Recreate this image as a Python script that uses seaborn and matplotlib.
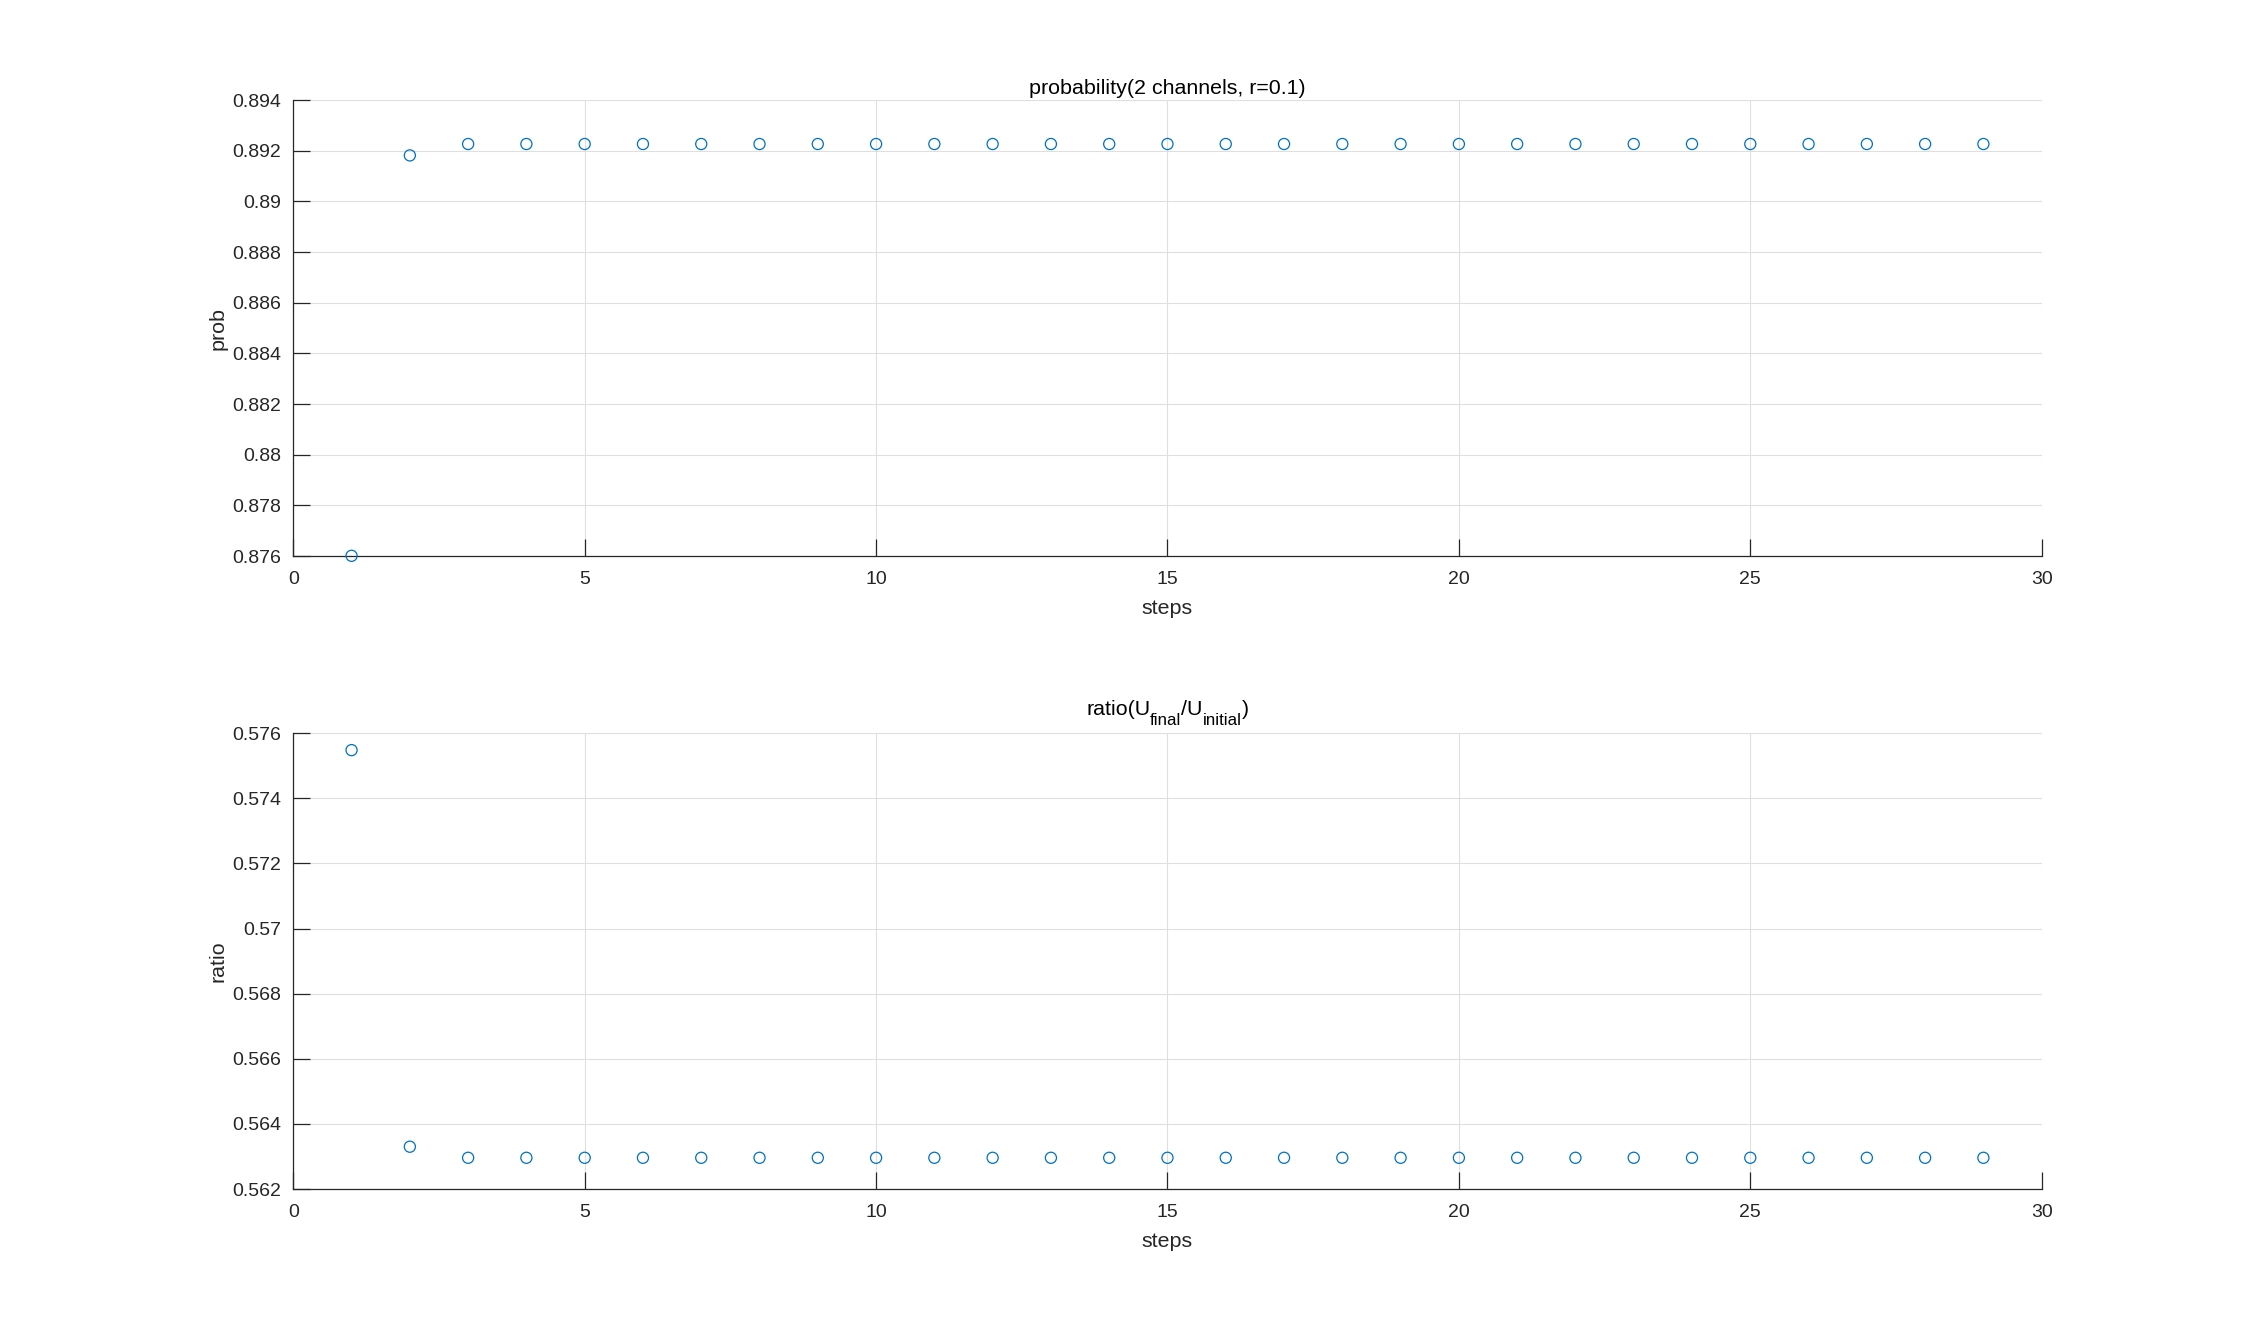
import matplotlib
matplotlib.use("Agg")
import matplotlib.pyplot as plt
import matplotlib.transforms as mtransforms
import seaborn as sns
import pandas as pd
from matplotlib.ticker import FuncFormatter, MultipleLocator

# ---- data ----
steps = [1, 2, 3, 4, 5, 6, 7, 8, 9, 10, 11, 12, 13, 14, 15,
         16, 17, 18, 19, 20, 21, 22, 23, 24, 25, 26, 27, 28, 29]
prob = [0.87601, 0.89182, 0.89227, 0.89227, 0.89227, 0.89227, 0.89227, 0.89227,
        0.89227, 0.89227, 0.89227, 0.89227, 0.89227, 0.89227, 0.89227, 0.89227,
        0.89227, 0.89227, 0.89227, 0.89227, 0.89227, 0.89227, 0.89227, 0.89227,
        0.89227, 0.89227, 0.89227, 0.89227, 0.89227]
ratio = [0.57548, 0.56330, 0.56296, 0.56296, 0.56296, 0.56296, 0.56296, 0.56296,
         0.56296, 0.56296, 0.56296, 0.56296, 0.56296, 0.56296, 0.56296, 0.56296,
         0.56296, 0.56296, 0.56296, 0.56296, 0.56296, 0.56296, 0.56296, 0.56296,
         0.56296, 0.56296, 0.56296, 0.56296, 0.56296]

title_top = "probability(2 channels, r=0.1)"
# bottom title pieces: (text, is_subscript)
title_bottom_parts = [("ratio(U", False), ("final", True), ("/U", False),
                      ("initial", True), (")", False)]
xlabel = "steps"
ylabel_top = "prob"
ylabel_bottom = "ratio"
xlim = (0, 30)
ylim_top = (0.876, 0.894)
ylim_bottom = (0.562, 0.576)

df = pd.DataFrame({"steps": steps, "prob": prob, "ratio": ratio})

sns.set_theme(style="white")
plt.rcParams["font.family"] = ["Liberation Sans", "DejaVu Sans"]

TXT = "#262626"
BLUE = "#0072BD"
GRID = "#DFDFDF"
TITLE_FS = 15.4
SUB_FS = 12.2

fig = plt.figure(figsize=(22.56, 13.36), dpi=100)
fig.patch.set_facecolor("white")
ax1 = fig.add_axes([0.13, 0.5838, 0.775, 0.3412])
ax2 = fig.add_axes([0.13, 0.11, 0.775, 0.3412])

fmt = FuncFormatter(lambda v, p: "%g" % round(v, 6))

for ax, col, yl, ylim in [(ax1, "prob", ylabel_top, ylim_top),
                          (ax2, "ratio", ylabel_bottom, ylim_bottom)]:
    sns.scatterplot(data=df, x="steps", y=col, ax=ax, marker="o",
                    s=64, fc="none", ec=BLUE, linewidth=0.9, zorder=3, clip_on=False)
    ax.set_xlim(*xlim)
    ax.set_ylim(*ylim)
    ax.xaxis.set_major_locator(MultipleLocator(5))
    ax.yaxis.set_major_locator(MultipleLocator(0.002))
    ax.yaxis.set_major_formatter(fmt)
    ax.grid(True, color=GRID, linewidth=0.8)
    ax.set_axisbelow(True)
    for s in ["top", "right"]:
        ax.spines[s].set_visible(False)
    for s in ["left", "bottom"]:
        ax.spines[s].set_color(TXT)
        ax.spines[s].set_linewidth(0.9)
    ax.tick_params(bottom=True, left=True, top=False, right=False,
                   direction="in", length=12.2, width=0.9, color=TXT,
                   labelcolor=TXT, labelsize=14)
    ax.tick_params(axis="x", pad=11)
    ax.tick_params(axis="y", pad=8.5)
    ax.set_xlabel(xlabel, fontsize=15.4, color=TXT, labelpad=8)
    ax.set_ylabel(yl, fontsize=15.4, color=TXT, labelpad=3.5)
    ax.set_facecolor("white")

ax1.set_title(title_top, fontsize=TITLE_FS, color="black", pad=4.5)

# bottom title assembled from pieces so subscripts match the reference size
renderer = fig.canvas.get_renderer()
widths = []
for txt, sub in title_bottom_parts:
    t = fig.text(0, 0, txt, fontsize=SUB_FS if sub else TITLE_FS)
    widths.append(t.get_window_extent(renderer).width * 72.0 / fig.dpi)
    t.remove()
total = sum(widths)
x = -total / 2.0
base_up = 13.0   # points from axes top to main baseline
sub_drop = 7.0   # points subscript baseline drop
for (txt, sub), w in zip(title_bottom_parts, widths):
    tr = mtransforms.offset_copy(ax2.transAxes, fig=fig, x=x,
                                 y=base_up - (sub_drop if sub else 0.0), units="points")
    ax2.text(0.5, 1.0, txt, transform=tr, ha="left", va="baseline",
             fontsize=SUB_FS if sub else TITLE_FS, color="black", clip_on=False)
    x += w

fig.savefig("out.png", dpi=100, facecolor="white")
